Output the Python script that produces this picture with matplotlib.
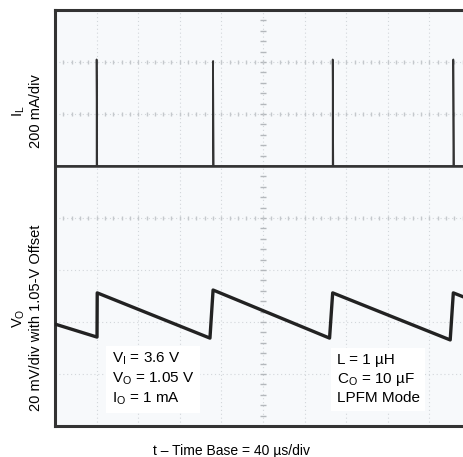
import numpy as np
import matplotlib
matplotlib.use("Agg")
import matplotlib.pyplot as plt

plt.rcParams['font.family'] = ['Liberation Sans', 'DejaVu Sans']
plt.rcParams['mathtext.fontset'] = 'custom'
plt.rcParams['mathtext.rm'] = 'Liberation Sans'
plt.rcParams['mathtext.it'] = 'Liberation Sans:italic'

# scope settings
t_div = 40.0        # us/div
il_div = 200.0      # mA/div
vo_div = 20.0       # mV/div
il_ref = 5.0        # IL ground marker (div)
vo_ref = 2.0        # VO offset marker (div)

# inductor current: narrow pulses (us, mA)
il_t = [0, 40, 40, 40.6, 152, 152, 152.6, 267, 267, 267.6, 383, 383, 383.6, 400]
il_ma = [0, 0, 410, 0, 0, 404, 0, 0, 410, 0, 0, 410, 0, 0]

# output voltage ripple (us, mV around 1.05 V)
vo_t = [0, 40.4, 40.6, 149, 152, 264, 267, 380, 383, 400]
vo_mv = [-0.8, -5.8, 11.2, -6.2, 12.3, -6.2, 11.2, -6.9, 11.2, 8.5]

fig = plt.figure(figsize=(4.63, 4.57), dpi=100)
W, H = 463, 457
ax = fig.add_axes([55 / W, (H - 426) / H, 416 / W, 416 / H])
ax.set_facecolor('#f7f9fb')
ax.set_xlim(0, 10)
ax.set_ylim(0, 8)

# graticule
for k in range(1, 10):
    ax.axvline(k, color='#d2d6da', lw=0.8, ls=(0, (1, 2.5)), zorder=1)
for k in range(1, 8):
    ax.axhline(k, color='#d2d6da', lw=0.8, ls=(0, (1, 2.5)), zorder=1)
ticks = np.arange(0, 10.01, 0.2)
ax.plot([5] * len(np.arange(0, 8.01, 0.2)), np.arange(0, 8.01, 0.2), '_',
        color='#b4b8bc', ms=4, mew=1.0, zorder=1)
for yy in (4, 6, 7):
    ax.plot(ticks, [yy] * len(ticks), '|', color='#c4c8cc', ms=3.5, mew=1.0, zorder=1)

# traces
il_x = np.array(il_t) / t_div
il_y = il_ref + np.array(il_ma) / il_div
ax.plot(il_x, il_y, color='#333333', lw=1.2, zorder=3)
ax.axhline(il_ref, color='#333333', lw=1.8, zorder=3)

vo_x = np.array(vo_t) / t_div
vo_y = vo_ref + np.array(vo_mv) / vo_div
ax.plot(vo_x, vo_y, color='#222222', lw=2.4, zorder=3)

for side in ('left', 'top', 'bottom'):
    ax.spines[side].set_linewidth(2.2)
    ax.spines[side].set_color('#333333')
ax.spines['right'].set_visible(False)
ax.set_xticks([])
ax.set_yticks([])

# condition boxes
box = dict(facecolor='white', edgecolor='none', pad=4)
ax.text(1.37, 0.9, 'V$_\\mathrm{I}$ = 3.6 V\nV$_\\mathrm{O}$ = 1.05 V\nI$_\\mathrm{O}$ = 1 mA',
        fontsize=11, va='center', ha='left', linespacing=1.3, bbox=box, zorder=4)
ax.text(6.77, 0.9, 'L = 1 µH\nC$_\\mathrm{O}$ = 10 µF\nLPFM Mode',
        fontsize=11, va='center', ha='left', linespacing=1.3, bbox=box, zorder=4)

# channel labels
fig.text(27 / W, 1 - 111 / H, 'I$_\\mathrm{L}$\n200 mA/div', rotation=90,
         fontsize=10.5, ha='center', va='center', multialignment='center')
fig.text(27 / W, 1 - 318 / H, 'V$_\\mathrm{O}$\n20 mV/div with 1.05-V Offset', rotation=90,
         fontsize=10.5, ha='center', va='center', multialignment='center')
fig.text(232 / W, 1 - 451 / H, 't – Time Base = 40 µs/div', fontsize=10,
         ha='center', va='center')

fig.savefig('out.png', dpi=100)
